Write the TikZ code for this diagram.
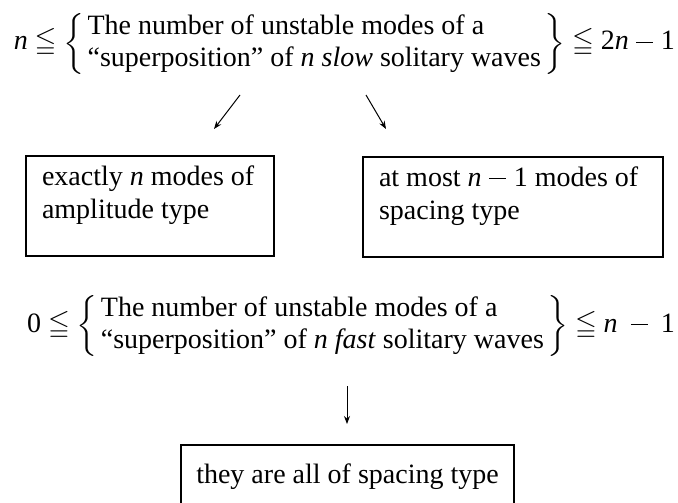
\documentclass[tikz,border=0pt]{standalone}
\usepackage{amssymb}
\usepackage{graphicx}
\usepackage[no-math]{fontspec}
\setmainfont{Liberation Serif}
\usetikzlibrary{arrows.meta}
\newcommand{\mylbr}{\mathopen{\vcenter{\hbox{\resizebox*{\width}{61pt}{$\left\{\vcenter{\hrule height 60pt width 0pt}\right.$}}}}}
\newcommand{\myrbr}{\mathclose{\vcenter{\hbox{\resizebox*{\width}{61pt}{$\left.\vcenter{\hrule height 60pt width 0pt}\right\}$}}}}}
\newcommand{\mymin}{\mathbin{\mkern1.5mu\rule[7.3pt]{17pt}{1.2pt}\mkern1.5mu}}
\begin{document}
\begin{tikzpicture}[x=1pt,y=-1pt,
  every node/.style={inner sep=0pt, outer sep=0pt},
  eqtext/.style={font=\fontsize{28}{32}\selectfont, anchor=base east},
  boxnode/.style={draw, line width=1.2pt, font=\fontsize{28}{33}\selectfont,
     inner xsep=16pt, inner ysep=0pt, text height=29pt, text depth=71pt, anchor=north west},
  arr/.style={-{Stealth[length=8pt,width=6pt]}, line width=1pt}]
\useasboundingbox (0,0) rectangle (678,503);

\node[eqtext] (eq1) at (675,50) {$\textit{n} \leqq \mylbr\begin{tabular}{@{\hspace{2pt}}l@{\hspace{2pt}}}The number of unstable modes of a\\ “superposition” of \textit{n slow} solitary waves\end{tabular}\myrbr \leqq \textrm{2}\textit{n} \mymin \textrm{1}$};

\node[boxnode] (lbox) at (26,156) {\makebox[216pt][l]{\begin{tabular}[t]{@{}l@{}}exactly \textit{n} modes of\\ amplitude type\end{tabular}}};
\node[boxnode] (rbox) at (363,157) {\makebox[268pt][l]{\begin{tabular}[t]{@{}l@{}}at most $\textit{n} \mymin \textrm{1}$ modes of\\ spacing type\end{tabular}}};

\node[eqtext] (eq2) at (675,332) {$\textrm{0} \leqq \mylbr\begin{tabular}{@{\hspace{2pt}}l@{\hspace{2pt}}}The number of unstable modes of a\\ “superposition” of \textit{n fast} solitary waves\end{tabular}\myrbr \leqq \textit{n} \mkern4mu \mymin \mkern4mu \textrm{1}$};

\node[draw, line width=1.2pt, font=\fontsize{28}{33}\selectfont, minimum width=333pt,
  text height=38pt, text depth=30pt, anchor=north] (bbox) at (347.5,445) {they are all of spacing type};

\coordinate (a1s) at (240,95);
\coordinate (a1e) at (214,129);
\coordinate (a2s) at (366,95);
\coordinate (a2e) at (386,129);
\coordinate (a3s) at (347,386);
\coordinate (a3e) at (347,424);
\draw[arr] (a1s) -- (a1e);
\draw[arr] (a2s) -- (a2e);
\draw[arr] (a3s) -- (a3e);
\end{tikzpicture}
\end{document}
